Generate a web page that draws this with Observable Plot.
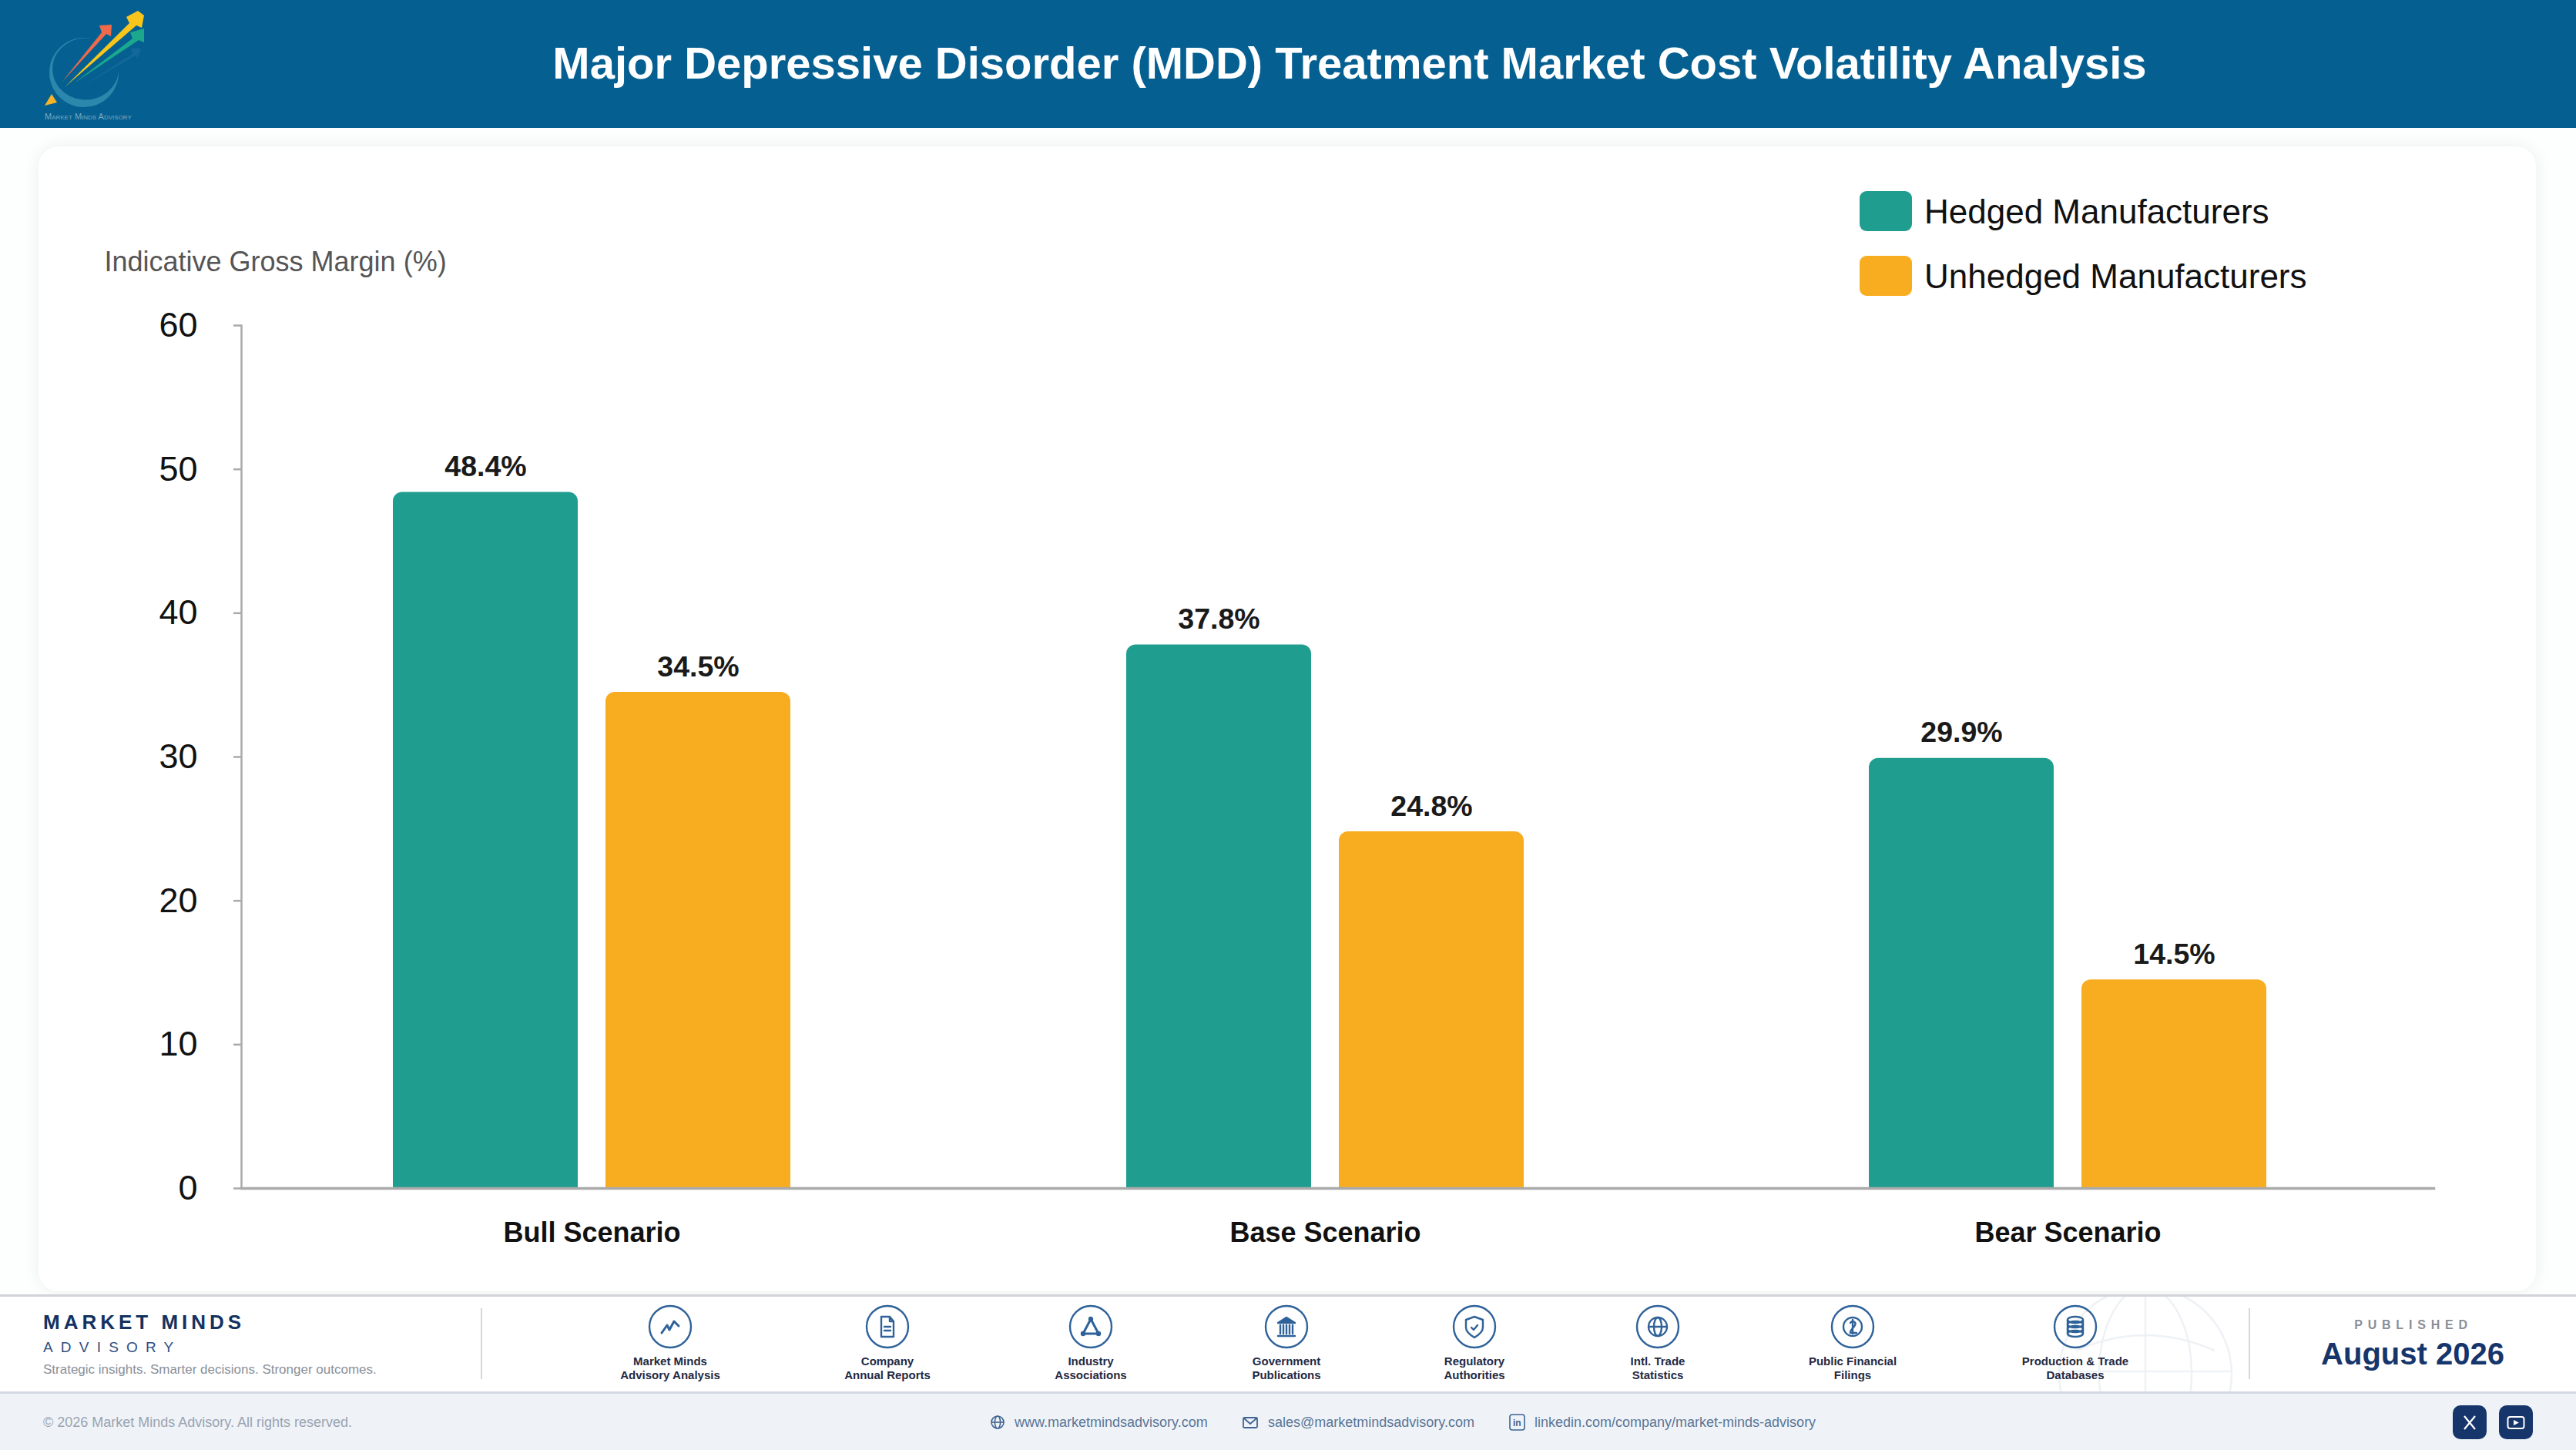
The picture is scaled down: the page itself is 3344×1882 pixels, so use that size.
<!DOCTYPE html>
<html><head><meta charset="utf-8">
<script src="https://cdn.jsdelivr.net/npm/d3@7"></script>
<script src="https://cdn.jsdelivr.net/npm/@observablehq/plot@0.6"></script>
<style>
html,body{margin:0;padding:0;background:#fdfdfd;}
#page{position:relative;width:3344px;height:1882px;overflow:hidden;font-family:"Liberation Sans",Arial,sans-serif;background:#fdfefe;}
#page>*{position:absolute;}
.abs{position:absolute;white-space:nowrap;}
#header{left:0;top:0;width:3344px;height:166px;background:#056091;}
#title{left:0;top:0;width:3504px;height:163px;line-height:163px;text-align:center;color:#fff;font-weight:700;font-size:58px;}
#card{left:50px;top:190px;width:3242px;height:1486px;background:#fff;border-radius:26px;box-shadow:0 0 22px rgba(0,0,0,.07);}
#chart{left:0;top:190px;}
.sw{width:68px;height:52px;border-radius:9px;}
.lg{font-size:44px;color:#111;line-height:52px;}
#band{left:0;top:1680px;width:3344px;height:127px;background:#fff;border-top:3px solid #d2d3da;box-sizing:border-box;}
#bottom{left:0;top:1806px;width:3344px;height:76px;background:#eff3f8;border-top:3px solid #d3d9e5;box-sizing:border-box;}
.vd{width:2px;height:92px;top:1698px;background:#d5d7da;}
.src{width:300px;text-align:center;font-size:15px;line-height:18px;font-weight:700;color:#1f2a44;top:1758px;}
.ft{font-size:18px;line-height:20px;top:1836px;color:#5a7596;}
</style></head><body>
<div id="page">
  <div id="header"></div>
  <svg class="abs" style="left:0;top:0" width="240" height="166" viewBox="0 0 240 166">
    <path d="M118 50A45 45 0 1 0 154 92A43 40 0 1 1 118 50Z" fill="#2b87ab"/>
    <polygon points="105,113 172,70 170,63 183,63 179,76 176,72" fill="#14679b"/>
    <polygon points="96,108 172,50 169,42 187,37 187,55 180,52" fill="#1ba88d"/>
    <polygon points="80,107 132,42 129,33 145,32 144,47 138,44" fill="#ee6a4a"/>
    <polygon points="84,113 168,30 164,22 179,14 187,20 184,36 177,33" fill="#f8c51c"/>
    <polygon points="58,137 67,122 74,133" fill="#f8b326"/>
    <text x="58" y="155" font-size="11" fill="#7fa6bd" font-family="Liberation Sans" style="font-variant:small-caps">Market Minds Advisory</text>
  </svg>
  <div id="title">Major Depressive Disorder (MDD) Treatment Market Cost Volatility Analysis</div>
  <div id="card"></div>
  <div id="chart"></div>
  <div class="abs sw" style="left:2414px;top:248px;background:#1f9e8f"></div>
  <div class="abs lg" style="left:2498px;top:249px">Hedged Manufacturers</div>
  <div class="abs sw" style="left:2414px;top:332px;background:#f8ad20"></div>
  <div class="abs lg" style="left:2498px;top:333px">Unhedged Manufacturers</div>

  <div id="band"></div>
  <svg class="abs" style="left:2660px;top:1683px" width="250" height="123" viewBox="0 0 250 123" fill="none" stroke="#eef1f5" stroke-width="2.5">
    <circle cx="125" cy="100" r="112"/><ellipse cx="125" cy="100" rx="60" ry="112"/><path d="M125 -12V123M13 97H237M35 70Q125 30 215 70"/>
  </svg>
  <div id="bottom"></div>
  <div class="abs" style="left:56px;top:1701px;font-size:26px;line-height:30px;font-weight:700;letter-spacing:5px;color:#14325f">MARKET MINDS</div>
  <div class="abs" style="left:56px;top:1738px;font-size:19px;line-height:22px;letter-spacing:10.2px;color:#2f4f80">ADVISORY</div>
  <div class="abs" style="left:56px;top:1768px;font-size:17px;line-height:20px;color:#8a8f98">Strategic insights. Smarter decisions. Stronger outcomes.</div>
  <div class="abs vd" style="left:624px"></div>
  <div class="abs vd" style="left:2919px"></div>
  <div id="sources"></div>
  <div class="abs" style="left:2933px;width:400px;text-align:center;top:1710px;font-size:16px;line-height:20px;font-weight:700;letter-spacing:6.8px;color:#8a8f98">PUBLISHED</div>
  <div class="abs" style="left:2932px;width:400px;text-align:center;top:1733px;font-size:40px;line-height:48px;font-weight:700;color:#16356a">August 2026</div>
  <div class="abs ft" style="left:56px;color:#9aa3b0">© 2026 Market Minds Advisory. All rights reserved.</div>
  <svg class="abs" style="left:1285px;top:1836px" width="20" height="20" viewBox="0 0 20 20" fill="none" stroke="#3f6490" stroke-width="1.6"><circle cx="10" cy="10" r="8"/><ellipse cx="10" cy="10" rx="3.6" ry="8"/><path d="M2 10H18"/></svg>
  <div class="abs ft" style="left:1317px">www.marketmindsadvisory.com</div>
  <svg class="abs" style="left:1613px;top:1836px" width="20" height="20" viewBox="0 0 20 20" fill="none" stroke="#3f6490" stroke-width="1.8"><rect x="1" y="4" width="18" height="13" rx="1.5"/><path d="M2 5L10 12L18 5"/></svg>
  <div class="abs ft" style="left:1646px">sales@marketmindsadvisory.com</div>
  <svg class="abs" style="left:1959px;top:1835px" width="21" height="22" viewBox="0 0 21 22" fill="none" stroke="#3f6490" stroke-width="1.6"><rect x="1" y="1" width="19" height="20" rx="3"/><text x="5" y="16" font-size="12" font-family="Liberation Sans" fill="#3f6490" stroke="none" font-weight="700">in</text></svg>
  <div class="abs ft" style="left:1992px">linkedin.com/company/market-minds-advisory</div>
  <svg class="abs" style="left:3184px;top:1824px" width="104" height="44" viewBox="0 0 104 44">
    <rect width="44" height="44" rx="10" fill="#16356a"/><rect x="60" width="44" height="44" rx="10" fill="#16356a"/>
    <path d="M15 14L29 31M29 14L15 31" stroke="#fff" stroke-width="2.2"/>
    <rect x="71.5" y="15" width="21" height="15" rx="3" fill="none" stroke="#fff" stroke-width="2"/><path d="M79 19V26L86 22.5Z" fill="#fff"/>
  </svg>
</div>
<script>
// ---- chart data ----
const scenarios = ["Bull Scenario", "Base Scenario", "Bear Scenario"];
const hedged = [48.4, 37.8, 29.9];
const unhedged = [34.5, 24.8, 14.5];
const yTicks = [0, 10, 20, 30, 40, 50, 60];
const yLabel = "Indicative Gross Margin (%)";
const hedgedColor = "#1f9e8f";
const unhedgedColor = "#f8ad20";

// ---- footer lists ----
const sourceNames = [["Market Minds","Advisory Analysis"],["Company","Annual Reports"],["Industry","Associations"],["Government","Publications"],["Regulatory","Authorities"],["Intl. Trade","Statistics"],["Public Financial","Filings"],["Production & Trade","Databases"]];
const sourceCenters = [870,1152,1416,1670,1914,2152,2405,2694];
const iconStyle = 'fill="none" stroke="#2f6299" stroke-width="2.4" stroke-linecap="round" stroke-linejoin="round"';
const sourceIcons = [
 '<path d="M-11 8L-4 -2L-1 4L5 -7L11 -1" stroke-width="3"/>',
 '<path d="M-8 -13H3L8 -7V13H-8ZM3 -13V-7H8M-4 0H4M-4 5H4" />',
 '<path d="M0 -10L-10 9H10Z" stroke-width="3"/><circle cx="0" cy="-10" r="2" fill="#2f6299"/><circle cx="-10" cy="9" r="2" fill="#2f6299"/><circle cx="10" cy="9" r="2" fill="#2f6299"/>',
 '<path d="M-11 -5L0 -12L11 -5Z" fill="#2f6299"/><path d="M-8 -2V9M-4 -2V9M0 -2V9M4 -2V9M8 -2V9M-11 12H11" stroke-width="2.4"/>',
 '<path d="M0 -13L11 -9V1C11 7 5 11 0 14C-5 11 -11 7 -11 1V-9ZM-4 1L-1 4L4 -2"/>',
 '<circle r="12"/><ellipse rx="5" ry="12"/><path d="M-12 0H12"/>',
 '<circle r="12"/><path d="M-3 -5C0 -9 5 -6 3 -2C1 2 -4 5 -3 8H5M0 -9V9"/>',
 '<ellipse cy="-9" rx="10" ry="4"/><ellipse cy="-3" rx="10" ry="4"/><ellipse cy="3" rx="10" ry="4"/><ellipse cy="9" rx="10" ry="4"/><path d="M-10 -9V9M10 -9V9"/>'
];
document.getElementById("sources").innerHTML = sourceNames.map((n,i)=>{
  const c = sourceCenters[i];
  return `<svg class="abs" style="left:${c-30}px;top:1692px" width="60" height="60" viewBox="-30 -30 60 60" ${iconStyle}><circle r="27"/>${sourceIcons[i]}</svg>`
   + `<div class="abs src" style="left:${c-150}px">${n[0].replace("&","&amp;")}<br>${n[1]}</div>`;
}).join("");

// ---- chart ----
const rows = scenarios.map((s,i)=>({s, i, h:hedged[i], u:unhedged[i]}));
const hedgedBar = {x1:"i",x2:"i",y1:0,fill:hedgedColor,insetLeft:-258,insetRight:18};
const unhedgedBar = {x1:"i",x2:"i",y1:0,fill:unhedgedColor,insetLeft:18,insetRight:-258};
const chart = Plot.plot({
  width: 3344, height: 1486,
  marginTop: 232, marginBottom: 134, marginLeft: 313, marginRight: 185,
  style: {background:"transparent", fontFamily:"Liberation Sans, Arial, sans-serif", overflow:"visible"},
  x: {type:"linear", domain:[0,1,2], range:[768,1720,2684], axis:null},
  y: {domain:[0,60], range:[1352,232], axis:null},
  marks: [
    // rounded full-height bars, with a square lower half so only the top corners stay rounded
    Plot.rect(rows,{...hedgedBar,y2:"h",rx:12,ry:12}),
    Plot.rect(rows,{...hedgedBar,y2:d=>d.h/2}),
    Plot.rect(rows,{...unhedgedBar,y2:"u",rx:12,ry:12}),
    Plot.rect(rows,{...unhedgedBar,y2:d=>d.u/2}),
    Plot.frame({anchor:"left",stroke:"#aaa",strokeWidth:2.5}),
    Plot.frame({anchor:"bottom",stroke:"#aaa",strokeWidth:3.5}),
    Plot.axisY({ticks:yTicks,label:null,tickSize:10,tickPadding:47,fontSize:45,stroke:"#aaa",strokeWidth:2.5,fill:"#111"}),
    Plot.axisX({ticks:[0,1,2],tickFormat:i=>scenarios[i],label:null,tickSize:0,tickPadding:44,fontSize:36,fontWeight:700,fill:"#111"}),
    Plot.text(rows,{x:"i",y:"h",text:d=>d.h.toFixed(1)+"%",dx:-138,dy:-33,fontSize:37.5,fontWeight:700,fill:"#1a1a1a"}),
    Plot.text(rows,{x:"i",y:"u",text:d=>d.u.toFixed(1)+"%",dx:138,dy:-33,fontSize:37.5,fontWeight:700,fill:"#1a1a1a"}),
    Plot.text([yLabel],{frameAnchor:"top-left",dx:-178,dy:-82,lineAnchor:"middle",textAnchor:"start",fontSize:36,fill:"#555"})
  ]
});
document.getElementById("chart").appendChild(chart);
</script>
</body></html>
